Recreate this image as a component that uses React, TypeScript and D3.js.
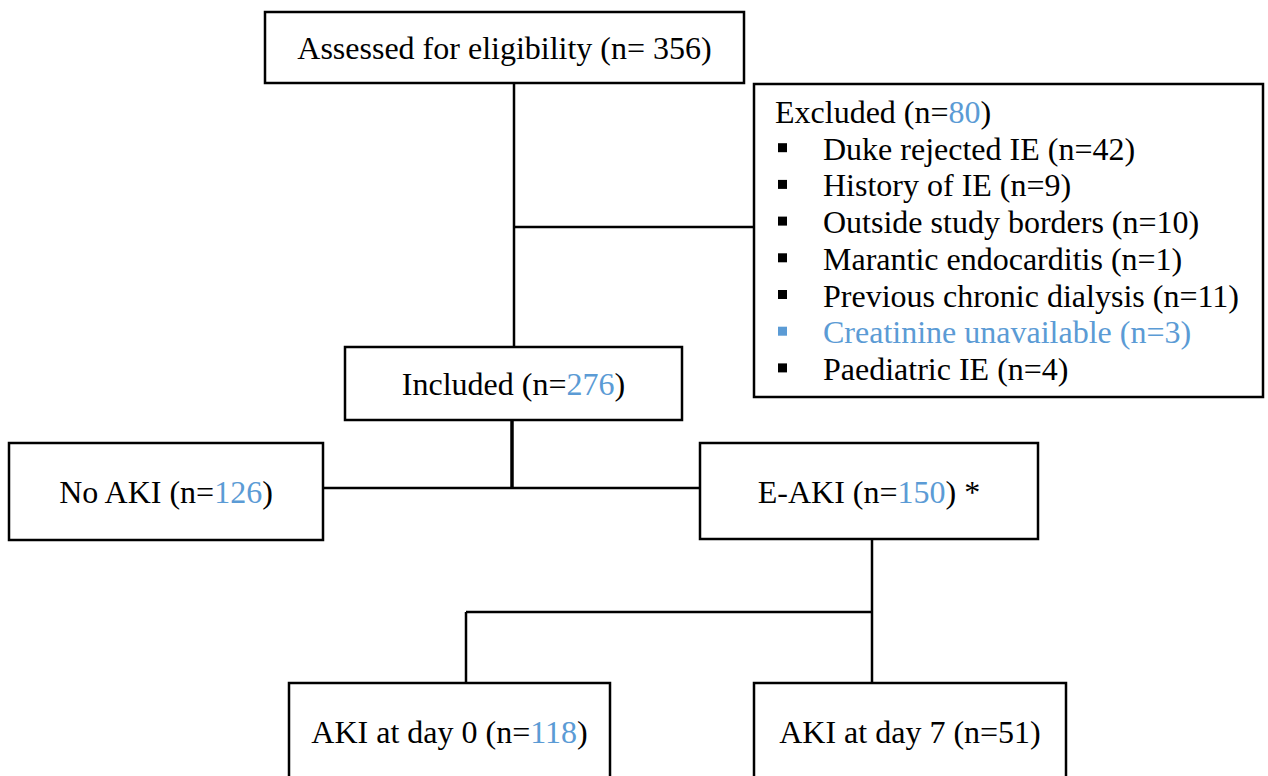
import * as d3 from 'd3';
import React, { useEffect, useRef } from 'react';

// Counts shown in the flow diagram
const assessedN = 356;
const excludedN = 80;
const includedN = 276;
const noAkiN = 126;
const eAkiN = 150;
const akiDay0N = 118;
const akiDay7N = 51;

// Exclusion reasons and their counts
const exclusionReasons = [
    'Duke rejected IE',
    'History of IE',
    'Outside study borders',
    'Marantic endocarditis',
    'Previous chronic dialysis',
    'Creatinine unavailable',
    'Paediatric IE',
];
const exclusionCounts = [42, 9, 10, 1, 11, 3, 4];
const highlightedReasons = ['Creatinine unavailable'];

const BLUE = '#5b9bd5';
const FONT = '"Liberation Serif", "Times New Roman", serif';

type Part = { t: string; blue?: boolean };

const App: React.FC = () => {
    const svgRef = useRef<SVGSVGElement | null>(null);

    useEffect(() => {
        const width = 1268;
        const height = 776;

        d3.select(svgRef.current).selectAll('*').remove();

        const svg = d3
            .select(svgRef.current)
            .attr('width', width)
            .attr('height', height)
            .style('font-family', FONT)
            .style('font-size', '32px');

        // Box geometry (x0, y0, x1, y1)
        const boxes = {
            assessed: [265, 12, 744, 83],
            excluded: [754, 84, 1263, 397],
            included: [345, 347, 682, 420],
            noAki: [9, 443, 323, 540],
            eAki: [700, 443, 1038, 539],
            aki0: [289, 683, 610, 800],
            aki7: [754, 683, 1066, 800],
        };

        // Connector lines
        const connectors: { pts: [number, number][]; w: number }[] = [
            { pts: [[514, 83], [514, 347]], w: 2.5 },
            { pts: [[514, 227], [754, 227]], w: 2.5 },
            { pts: [[512, 420], [512, 488]], w: 3.5 },
            { pts: [[323, 488], [700, 488]], w: 2.5 },
            { pts: [[872, 539], [872, 612]], w: 2.5 },
            { pts: [[466, 612], [872, 612]], w: 2.5 },
            { pts: [[466, 612], [466, 683]], w: 2.5 },
            { pts: [[872, 612], [872, 683]], w: 2.5 },
        ];

        const line = d3.line();
        svg.selectAll('path.conn')
            .data(connectors)
            .enter()
            .append('path')
            .attr('class', 'conn')
            .attr('d', d => line(d.pts))
            .attr('stroke', '#000')
            .attr('stroke-width', d => d.w)
            .attr('fill', 'none');

        svg.selectAll('rect.box')
            .data(Object.values(boxes))
            .enter()
            .append('rect')
            .attr('class', 'box')
            .attr('x', d => d[0])
            .attr('y', d => d[1])
            .attr('width', d => d[2] - d[0])
            .attr('height', d => d[3] - d[1])
            .attr('fill', 'none')
            .attr('stroke', '#000')
            .attr('stroke-width', 2.5);

        // Centered labels
        const labels: { box: number[]; dy: number; parts: Part[] }[] = [
            { box: boxes.assessed, dy: 11.5, parts: [{ t: `Assessed for eligibility (n= ${assessedN})` }] },
            { box: boxes.included, dy: 11.5, parts: [{ t: 'Included (n=' }, { t: `${includedN}`, blue: true }, { t: ')' }] },
            { box: boxes.noAki, dy: 11.5, parts: [{ t: 'No AKI (n=' }, { t: `${noAkiN}`, blue: true }, { t: ')' }] },
            { box: boxes.eAki, dy: 11.5, parts: [{ t: 'E-AKI (n=' }, { t: `${eAkiN}`, blue: true }, { t: ') *' }] },
            { box: [boxes.aki0[0], boxes.aki0[1], boxes.aki0[2], boxes.aki0[1] + 95], dy: 12.5, parts: [{ t: 'AKI at day 0 (n=' }, { t: `${akiDay0N}`, blue: true }, { t: ')' }] },
            { box: [boxes.aki7[0], boxes.aki7[1], boxes.aki7[2], boxes.aki7[1] + 95], dy: 12.5, parts: [{ t: `AKI at day 7 (n=${akiDay7N})` }] },
        ];

        const lbl = svg.selectAll('text.lbl')
            .data(labels)
            .enter()
            .append('text')
            .attr('class', 'lbl')
            .attr('x', d => (d.box[0] + d.box[2]) / 2)
            .attr('y', d => (d.box[1] + d.box[3]) / 2 + d.dy)
            .attr('text-anchor', 'middle')
            .style('white-space', 'pre');

        lbl.selectAll('tspan')
            .data(d => d.parts)
            .enter()
            .append('tspan')
            .attr('fill', d => (d.blue ? BLUE : '#000'))
            .text(d => d.t);

        // Excluded box contents
        const ex = svg.append('g');
        const exLeft = boxes.excluded[0] + 21;
        const baseY = 123;
        const step = 36.7;

        const head = ex.append('text').attr('x', exLeft).attr('y', baseY);
        head.append('tspan').text('Excluded (n=');
        head.append('tspan').attr('fill', BLUE).text(`${excludedN}`);
        head.append('tspan').text(')');

        const items = exclusionReasons.map((r, i) => ({ reason: r, n: exclusionCounts[i], i }));
        const y = d3.scaleLinear().domain([0, 1]).range([baseY + step, baseY + 2 * step]);

        ex.selectAll('rect.bullet')
            .data(items)
            .enter()
            .append('rect')
            .attr('x', 778)
            .attr('y', d => y(d.i) - 16.5)
            .attr('width', 9)
            .attr('height', 9)
            .attr('fill', d => (highlightedReasons.includes(d.reason) ? BLUE : '#000'));

        ex.selectAll('text.item')
            .data(items)
            .enter()
            .append('text')
            .attr('class', 'item')
            .attr('x', 823)
            .attr('y', d => y(d.i))
            .attr('fill', d => (highlightedReasons.includes(d.reason) ? BLUE : '#000'))
            .text(d => `${d.reason} (n=${d.n})`);
    }, []);

    return (
        <svg
            ref={svgRef}
            style={{ position: 'absolute', left: 0, top: 0, background: '#fff' }}
        ></svg>
    );
};

export default App;
